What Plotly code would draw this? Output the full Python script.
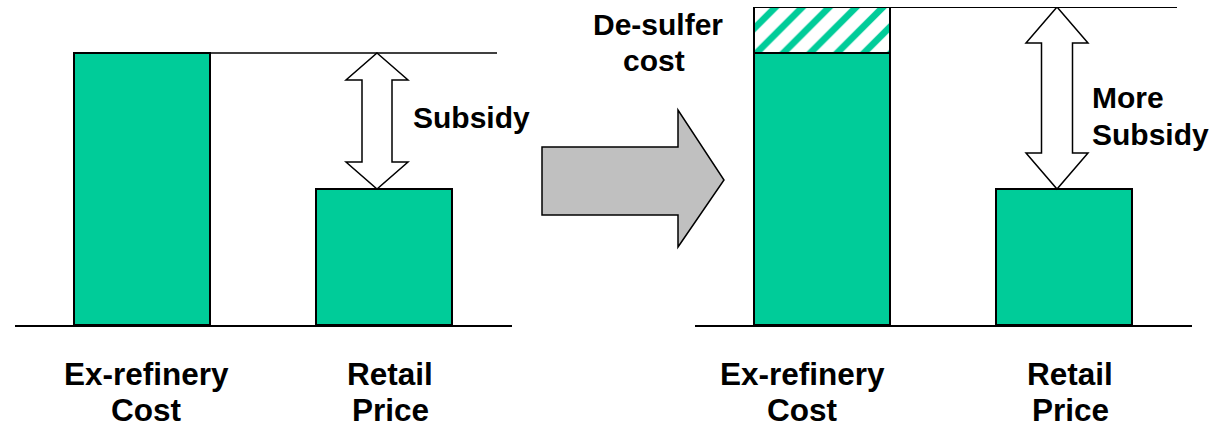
import plotly.graph_objects as go

W, H = 1226, 427

# ---- data ----
categories = ["Ex-refinery<br>Cost", "Retail<br>Price"]
label_line1 = ["Ex-refinery", "Retail"]
label_line2 = ["Cost", "Price"]
before_values = [100, 50]          # ex-refinery cost, retail price
after_base_values = [100, 50]
desulfur_values = [16.9, 0]        # extra de-sulfer cost on top of ex-refinery

GREEN = "#00CC99"

def px(x):
    return x / W

def py(y):
    return 1 - y / H

xpos = [0, 1]
bar_w = 136 / 242
xrange_ = [-127 / 242, (497 - 127) / 242]
ytop = sum([after_base_values[0], desulfur_values[0]])

fig = go.Figure()

# left panel
fig.add_trace(go.Bar(x=xpos, y=before_values, width=bar_w,
                     marker=dict(color=GREEN, line=dict(color="black", width=1.5)),
                     xaxis="x", yaxis="y", showlegend=False, hoverinfo="skip"))
# right panel
fig.add_trace(go.Bar(x=xpos, y=after_base_values, width=bar_w,
                     marker=dict(color=GREEN, line=dict(color="black", width=1.5)),
                     xaxis="x2", yaxis="y2", showlegend=False, hoverinfo="skip"))
fig.add_trace(go.Bar(x=xpos, y=desulfur_values, width=bar_w,
                     marker=dict(color="white", line=dict(color="black", width=1.5),
                                 pattern=dict(shape="/", fgcolor=GREEN, bgcolor="white",
                                              size=19, solidity=0.35, fgopacity=1)),
                     xaxis="x2", yaxis="y2", showlegend=False, hoverinfo="skip"))

ydom = [py(325), py(7)]
axis_common = dict(range=xrange_, showline=True, linecolor="black", linewidth=2,
                   showticklabels=False, ticks="", showgrid=False, zeroline=False,
                   fixedrange=True)
yaxis_common = dict(range=[0, ytop], visible=False, fixedrange=True, domain=ydom)

fig.update_layout(
    width=W, height=H,
    margin=dict(l=0, r=0, t=0, b=0),
    paper_bgcolor="white", plot_bgcolor="rgba(0,0,0,0)",
    barmode="stack",
    xaxis=dict(domain=[px(15), px(512)], **axis_common),
    yaxis=dict(anchor="x", **yaxis_common),
    xaxis2=dict(domain=[px(695), px(1192)], anchor="y2", **axis_common),
    yaxis2=dict(anchor="x2", **yaxis_common),
)

unit_px = 242.0
yscale = (325 - 7) / ytop

def double_arrow(cx, y0, y1, hw, sw, hh):
    return (f"M {cx},{y1} L {cx+hw},{y1-hh} L {cx+sw},{y1-hh} L {cx+sw},{y0+hh} "
            f"L {cx+hw},{y0+hh} L {cx},{y0} L {cx-hw},{y0+hh} L {cx-sw},{y0+hh} "
            f"L {cx-sw},{y1-hh} L {cx-hw},{y1-hh} Z")

shapes = []
# top reference lines
shapes.append(dict(type="line", xref="x", yref="y", x0=bar_w / 2, x1=xrange_[1] - 15 / unit_px,
                   y0=before_values[0], y1=before_values[0], line=dict(color="black", width=1.5)))
shapes.append(dict(type="line", xref="x2", yref="y2", x0=bar_w / 2, x1=xrange_[1] - 15 / unit_px,
                   y0=ytop, y1=ytop, line=dict(color="black", width=2)))
# subsidy arrows
cx = xpos[1] - 7 / unit_px
shapes.append(dict(type="path", xref="x", yref="y",
                   path=double_arrow(cx, before_values[1], before_values[0],
                                     31 / unit_px, 15 / unit_px, 27 / yscale),
                   fillcolor="white", line=dict(color="black", width=1.5)))
shapes.append(dict(type="path", xref="x2", yref="y2",
                   path=double_arrow(cx, after_base_values[1], ytop,
                                     31 / unit_px, 15.5 / unit_px, 36 / yscale),
                   fillcolor="white", line=dict(color="black", width=1.5)))
# big gray arrow between panels
pts = [(542, 147), (678, 147), (678, 110), (724, 180), (678, 247), (678, 215), (542, 215)]
path = "M " + " L ".join(f"{px(x)},{py(y)}" for x, y in pts) + " Z"
shapes.append(dict(type="path", xref="paper", yref="paper", path=path,
                   fillcolor="#C0C0C0", line=dict(color="black", width=1.5)))
fig.update_layout(shapes=shapes)

FONT = dict(family="Liberation Sans, Arial, sans-serif", size=30, color="black")
LFONT = dict(family="Liberation Sans, Arial, sans-serif", size=31.5, color="black")

# horizontal nudges (px) of category labels relative to bar centres
label_dx = {"x": [4, 6], "x2": [-20, 6]}

ann = []
for xr in ["x", "x2"]:
    for i in range(len(categories)):
        xl = xpos[i] + label_dx[xr][i] / unit_px
        ann.append(dict(x=xl, xref=xr, y=py(374), yref="paper", text=f"<b>{label_line1[i]}</b>",
                        showarrow=False, xanchor="center", yanchor="middle", font=LFONT))
        ann.append(dict(x=xl, xref=xr, y=py(410), yref="paper", text=f"<b>{label_line2[i]}</b>",
                        showarrow=False, xanchor="center", yanchor="middle", font=LFONT))

def ptext(t, x, y, xanchor):
    return dict(x=px(x), xref="paper", y=py(y), yref="paper", text=f"<b>{t}</b>",
                showarrow=False, xanchor=xanchor, yanchor="middle", font=FONT)

ann += [
    ptext("Subsidy", 411, 117, "left"),
    ptext("More", 1090, 97, "left"),
    ptext("Subsidy", 1090, 134, "left"),
    ptext("De-sulfer", 658, 25, "center"),
    ptext("cost", 654, 61, "center"),
]
fig.update_layout(annotations=ann)

fig.write_html("out.html", config={"displayModeBar": False},
               post_script="document.body.style.margin='0';document.body.style.overflow='hidden';")
